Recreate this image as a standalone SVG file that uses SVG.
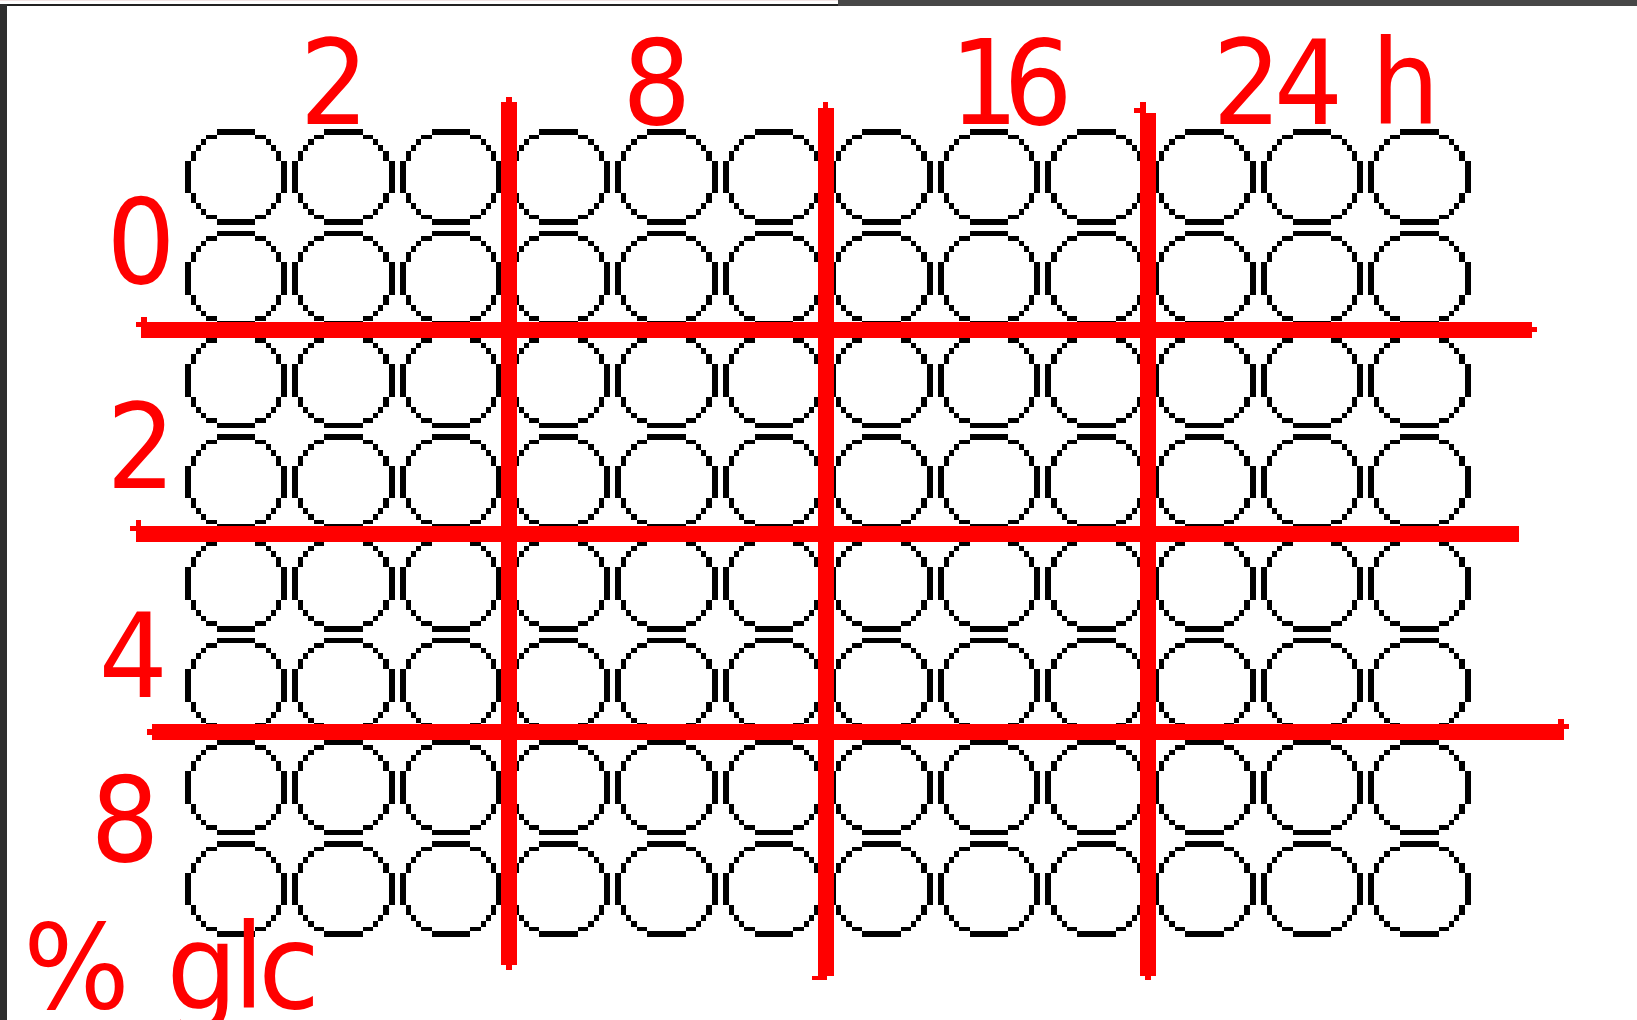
<svg xmlns="http://www.w3.org/2000/svg" xmlns:xlink="http://www.w3.org/1999/xlink" width="1637" height="1020" viewBox="0 0 1637 1020">
<style>
.lbl{font-family:"DejaVu Sans","Liberation Sans",sans-serif;font-size:118px;fill:#ff0000;text-anchor:middle}
.red{fill:#ff0000;shape-rendering:crispEdges}
.well{fill:#000000;shape-rendering:crispEdges}
</style>
<defs>
<path id="well" class="well" d="M32 0h38.6v5.7h-38.6z M21.7 5.7h10.3v4.6h-10.3z M70.6 5.7h10.4v4.6h-10.4z M16.3 10.3h5.4v5.4h-5.4z M81 10.3h5.3v5.4h-5.3z M11.3 15.7h5v6h-5z M86.3 15.7h5v6h-5z M6 21.7h5.3v10h-5.3z M91.3 21.7h5.3v10h-5.3z M0 31.7h6v32.6h-6z M96.6 31.7h6v32.6h-6z M6 64.3h5.3v10h-5.3z M91.3 64.3h5.3v10h-5.3z M11.3 74.3h5v6h-5z M86.3 74.3h5v6h-5z M16.3 80.3h5.4v5.4h-5.4z M81 80.3h5.3v5.4h-5.3z M21.7 85.7h10.3v4.6h-10.3z M70.6 85.7h10.4v4.6h-10.4z M32 90.3h38.6v5.7h-38.6z"/>
</defs>
<rect x="0" y="0" width="1637" height="1020" fill="#ffffff"/>
<g id="frame" shape-rendering="crispEdges">
<rect x="0" y="0" width="838" height="1.3" fill="#f2e4e4"/>
<rect x="0" y="4" width="838" height="2" fill="#222222"/>
<rect x="838" y="0" width="799" height="6" fill="#474747"/>
<rect x="0" y="4" width="7" height="1016" fill="#2e2e2e"/>
</g>
<g id="wells">
<g id="row1" transform="translate(0,129)">
<g id="r1c1"><use href="#well" x="184.5" y="0"/></g><g id="r1c2"><use href="#well" x="292.1" y="0"/></g><g id="r1c3"><use href="#well" x="399.7" y="0"/></g><g id="r1c4"><use href="#well" x="507.3" y="0"/></g><g id="r1c5"><use href="#well" x="614.9" y="0"/></g><g id="r1c6"><use href="#well" x="722.5" y="0"/></g><g id="r1c7"><use href="#well" x="830.1" y="0"/></g><g id="r1c8"><use href="#well" x="937.7" y="0"/></g><g id="r1c9"><use href="#well" x="1045.3" y="0"/></g><g id="r1c10"><use href="#well" x="1152.9" y="0"/></g><g id="r1c11"><use href="#well" x="1260.5" y="0"/></g><g id="r1c12"><use href="#well" x="1368.1" y="0"/></g>
</g>
<g id="row2" transform="translate(0,230.7)">
<g id="r2c1"><use href="#well" x="184.5" y="0"/></g><g id="r2c2"><use href="#well" x="292.1" y="0"/></g><g id="r2c3"><use href="#well" x="399.7" y="0"/></g><g id="r2c4"><use href="#well" x="507.3" y="0"/></g><g id="r2c5"><use href="#well" x="614.9" y="0"/></g><g id="r2c6"><use href="#well" x="722.5" y="0"/></g><g id="r2c7"><use href="#well" x="830.1" y="0"/></g><g id="r2c8"><use href="#well" x="937.7" y="0"/></g><g id="r2c9"><use href="#well" x="1045.3" y="0"/></g><g id="r2c10"><use href="#well" x="1152.9" y="0"/></g><g id="r2c11"><use href="#well" x="1260.5" y="0"/></g><g id="r2c12"><use href="#well" x="1368.1" y="0"/></g>
</g>
<g id="row3" transform="translate(0,332.4)">
<g id="r3c1"><use href="#well" x="184.5" y="0"/></g><g id="r3c2"><use href="#well" x="292.1" y="0"/></g><g id="r3c3"><use href="#well" x="399.7" y="0"/></g><g id="r3c4"><use href="#well" x="507.3" y="0"/></g><g id="r3c5"><use href="#well" x="614.9" y="0"/></g><g id="r3c6"><use href="#well" x="722.5" y="0"/></g><g id="r3c7"><use href="#well" x="830.1" y="0"/></g><g id="r3c8"><use href="#well" x="937.7" y="0"/></g><g id="r3c9"><use href="#well" x="1045.3" y="0"/></g><g id="r3c10"><use href="#well" x="1152.9" y="0"/></g><g id="r3c11"><use href="#well" x="1260.5" y="0"/></g><g id="r3c12"><use href="#well" x="1368.1" y="0"/></g>
</g>
<g id="row4" transform="translate(0,434.1)">
<g id="r4c1"><use href="#well" x="184.5" y="0"/></g><g id="r4c2"><use href="#well" x="292.1" y="0"/></g><g id="r4c3"><use href="#well" x="399.7" y="0"/></g><g id="r4c4"><use href="#well" x="507.3" y="0"/></g><g id="r4c5"><use href="#well" x="614.9" y="0"/></g><g id="r4c6"><use href="#well" x="722.5" y="0"/></g><g id="r4c7"><use href="#well" x="830.1" y="0"/></g><g id="r4c8"><use href="#well" x="937.7" y="0"/></g><g id="r4c9"><use href="#well" x="1045.3" y="0"/></g><g id="r4c10"><use href="#well" x="1152.9" y="0"/></g><g id="r4c11"><use href="#well" x="1260.5" y="0"/></g><g id="r4c12"><use href="#well" x="1368.1" y="0"/></g>
</g>
<g id="row5" transform="translate(0,535.8)">
<g id="r5c1"><use href="#well" x="184.5" y="0"/></g><g id="r5c2"><use href="#well" x="292.1" y="0"/></g><g id="r5c3"><use href="#well" x="399.7" y="0"/></g><g id="r5c4"><use href="#well" x="507.3" y="0"/></g><g id="r5c5"><use href="#well" x="614.9" y="0"/></g><g id="r5c6"><use href="#well" x="722.5" y="0"/></g><g id="r5c7"><use href="#well" x="830.1" y="0"/></g><g id="r5c8"><use href="#well" x="937.7" y="0"/></g><g id="r5c9"><use href="#well" x="1045.3" y="0"/></g><g id="r5c10"><use href="#well" x="1152.9" y="0"/></g><g id="r5c11"><use href="#well" x="1260.5" y="0"/></g><g id="r5c12"><use href="#well" x="1368.1" y="0"/></g>
</g>
<g id="row6" transform="translate(0,637.5)">
<g id="r6c1"><use href="#well" x="184.5" y="0"/></g><g id="r6c2"><use href="#well" x="292.1" y="0"/></g><g id="r6c3"><use href="#well" x="399.7" y="0"/></g><g id="r6c4"><use href="#well" x="507.3" y="0"/></g><g id="r6c5"><use href="#well" x="614.9" y="0"/></g><g id="r6c6"><use href="#well" x="722.5" y="0"/></g><g id="r6c7"><use href="#well" x="830.1" y="0"/></g><g id="r6c8"><use href="#well" x="937.7" y="0"/></g><g id="r6c9"><use href="#well" x="1045.3" y="0"/></g><g id="r6c10"><use href="#well" x="1152.9" y="0"/></g><g id="r6c11"><use href="#well" x="1260.5" y="0"/></g><g id="r6c12"><use href="#well" x="1368.1" y="0"/></g>
</g>
<g id="row7" transform="translate(0,739.2)">
<g id="r7c1"><use href="#well" x="184.5" y="0"/></g><g id="r7c2"><use href="#well" x="292.1" y="0"/></g><g id="r7c3"><use href="#well" x="399.7" y="0"/></g><g id="r7c4"><use href="#well" x="507.3" y="0"/></g><g id="r7c5"><use href="#well" x="614.9" y="0"/></g><g id="r7c6"><use href="#well" x="722.5" y="0"/></g><g id="r7c7"><use href="#well" x="830.1" y="0"/></g><g id="r7c8"><use href="#well" x="937.7" y="0"/></g><g id="r7c9"><use href="#well" x="1045.3" y="0"/></g><g id="r7c10"><use href="#well" x="1152.9" y="0"/></g><g id="r7c11"><use href="#well" x="1260.5" y="0"/></g><g id="r7c12"><use href="#well" x="1368.1" y="0"/></g>
</g>
<g id="row8" transform="translate(0,840.9)">
<g id="r8c1"><use href="#well" x="184.5" y="0"/></g><g id="r8c2"><use href="#well" x="292.1" y="0"/></g><g id="r8c3"><use href="#well" x="399.7" y="0"/></g><g id="r8c4"><use href="#well" x="507.3" y="0"/></g><g id="r8c5"><use href="#well" x="614.9" y="0"/></g><g id="r8c6"><use href="#well" x="722.5" y="0"/></g><g id="r8c7"><use href="#well" x="830.1" y="0"/></g><g id="r8c8"><use href="#well" x="937.7" y="0"/></g><g id="r8c9"><use href="#well" x="1045.3" y="0"/></g><g id="r8c10"><use href="#well" x="1152.9" y="0"/></g><g id="r8c11"><use href="#well" x="1260.5" y="0"/></g><g id="r8c12"><use href="#well" x="1368.1" y="0"/></g>
</g>
</g>
<g id="grid-lines">
<path id="v-line-1" class="red" d="M501 102h15.7v863h-15.7z M506 96.7h5.7v5.3h-5.7z M506 965h5.8v5h-5.8z"/>
<path id="v-line-2" class="red" d="M818.3 107.7h15.7v868h-15.7z M823.3 102h5v5.7h-5z M811.8 975.7h15.6v4.3h-15.6z"/>
<path id="v-line-3" class="red" d="M1140 113.3h15.8v862.4h-15.8z M1140 101.7h5.5v11.6h-5.5z M1134 107.7h6v5.6h-6z M1145 975.7h5.6v4.3h-5.6z"/>
<path id="h-line-1" class="red" d="M141 321.7h1390.5v16h-1390.5z M136 321.7h5v5h-5z M141 317.3h5.7v4.4h-5.7z M1531.5 326.7h5.1v5.6h-5.1z"/>
<path id="h-line-2" class="red" d="M136 526h1383v15.6h-1383z M130 526h6v5h-6z M136 520h5v6h-5z"/>
<path id="h-line-3" class="red" d="M152.3 724h1411.7v16h-1411.7z M147.3 729h5v5.5h-5z M1558.3 719h5.7v5h-5.7z M1564 724h5v5h-5z"/>
</g>
<g id="labels">
<text id="t-2" class="lbl" transform="scale(0.92,1)" x="363.4" y="124">2</text>
<text id="t-8" class="lbl" transform="scale(0.92,1)" x="713.8" y="124">8</text>
<text id="t-16" class="lbl" transform="scale(0.92,1)" x="1069.9 1128.3" y="124">16</text>
<text id="t-24h" class="lbl" transform="scale(0.92,1)" x="1355.4 1422.3 1450 1527.5" y="124">24 h</text>
<text id="g-0" class="lbl" transform="scale(0.92,1)" x="153.3" y="283.5">0</text>
<text id="g-2" class="lbl" transform="scale(0.92,1)" x="153.3" y="488">2</text>
<text id="g-4" class="lbl" transform="scale(0.92,1)" x="144.9" y="697">4</text>
<text id="g-8" class="lbl" transform="scale(0.92,1)" x="135.9" y="861.5">8</text>
<text id="axis" class="lbl" transform="scale(0.95,1)" x="80.6 157.9 212.6 261.8 304.3" y="1007.7">% glc</text>
</g>
</svg>
